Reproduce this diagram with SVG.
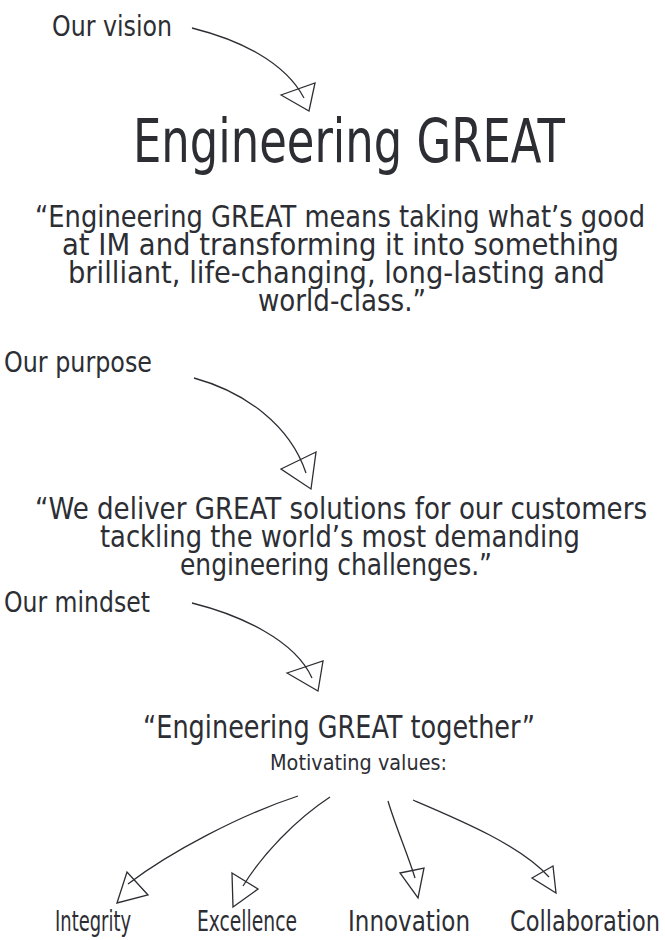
<svg xmlns="http://www.w3.org/2000/svg" width="665" height="940" viewBox="0 0 665 940">
  <style>
    text { font-family: "DejaVu Sans Condensed", "DejaVu Sans", "Liberation Sans", sans-serif; font-stretch: condensed; fill: #2c2e34; }
    .lbl { font-size: 29px; }
    .title { font-size: 61px; }
    .quote { font-size: 31px; }
    .tag { font-size: 32px; }
    .small { font-size: 22px; }
    .val { font-size: 29px; }
    .conn path, .conn polygon { fill: none; stroke: #2c2e34; stroke-width: 1.3; stroke-linejoin: miter; }
  </style>
  <rect width="665" height="940" fill="#ffffff"/>

  <!-- connectors: curved strokes with open triangular heads -->
  <g id="connectors" class="conn">
    <path d="M192,28 C240,40 285,62 304,98"/>
    <polygon points="281,95 315,83 309,111"/>

    <path d="M194,378 C245,392 290,425 306,473"/>
    <polygon points="281,469 316,452 311,489"/>

    <path d="M192,603 C240,615 295,640 312,678"/>
    <polygon points="287,673 323,661 318,691"/>

    <path d="M298,796 C240,815 170,852 128,884"/>
    <polygon points="117,903 127,872 148,895"/>

    <path d="M330,797 C295,820 262,855 243,886"/>
    <polygon points="232,873 258,889 233,907"/>

    <path d="M388,801 C395,825 408,855 415,878"/>
    <polygon points="400,873 424,868 418,898"/>

    <path d="M413,800 C460,820 520,845 549,877"/>
    <polygon points="532,878 553,866 556,893"/>
  </g>

  <g id="vision-label"><text class="lbl" x="52" y="36" textLength="120" lengthAdjust="spacingAndGlyphs">Our vision</text></g>

  <g id="vision-title"><text class="title" x="133" y="162" textLength="432" lengthAdjust="spacingAndGlyphs">Engineering GREAT</text></g>

  <g id="vision-quote">
    <text class="quote" x="35" y="227" textLength="610" lengthAdjust="spacingAndGlyphs">“Engineering GREAT means taking what’s good</text>
    <text class="quote" x="62" y="255" textLength="557" lengthAdjust="spacingAndGlyphs">at IM and transforming it into something</text>
    <text class="quote" x="68" y="283" textLength="537" lengthAdjust="spacingAndGlyphs">brilliant, life-changing, long-lasting and</text>
    <text class="quote" x="258" y="311" textLength="168" lengthAdjust="spacingAndGlyphs">world-class.”</text>
  </g>

  <g id="purpose-label"><text class="lbl" x="4" y="372" textLength="148" lengthAdjust="spacingAndGlyphs">Our purpose</text></g>

  <g id="purpose-quote">
    <text class="quote" x="35" y="519" textLength="612" lengthAdjust="spacingAndGlyphs">“We deliver GREAT solutions for our customers</text>
    <text class="quote" x="100" y="547" textLength="480" lengthAdjust="spacingAndGlyphs">tackling the world’s most demanding</text>
    <text class="quote" x="180" y="575" textLength="312" lengthAdjust="spacingAndGlyphs">engineering challenges.”</text>
  </g>

  <g id="mindset-label"><text class="lbl" x="4" y="612" textLength="146" lengthAdjust="spacingAndGlyphs">Our mindset</text></g>

  <g id="mindset-quote">
    <text class="tag" x="143" y="738" textLength="392" lengthAdjust="spacingAndGlyphs">“Engineering GREAT together”</text>
    <text class="small" x="270" y="770" textLength="177" lengthAdjust="spacingAndGlyphs">Motivating values:</text>
  </g>

  <g id="value-integrity"><text class="val" x="55" y="931" textLength="76" lengthAdjust="spacingAndGlyphs">Integrity</text></g>
  <g id="value-excellence"><text class="val" x="197" y="931" textLength="100" lengthAdjust="spacingAndGlyphs">Excellence</text></g>
  <g id="value-innovation"><text class="val" x="348" y="931" textLength="122" lengthAdjust="spacingAndGlyphs">Innovation</text></g>
  <g id="value-collaboration"><text class="val" x="510" y="931" textLength="150" lengthAdjust="spacingAndGlyphs">Collaboration</text></g>
</svg>
